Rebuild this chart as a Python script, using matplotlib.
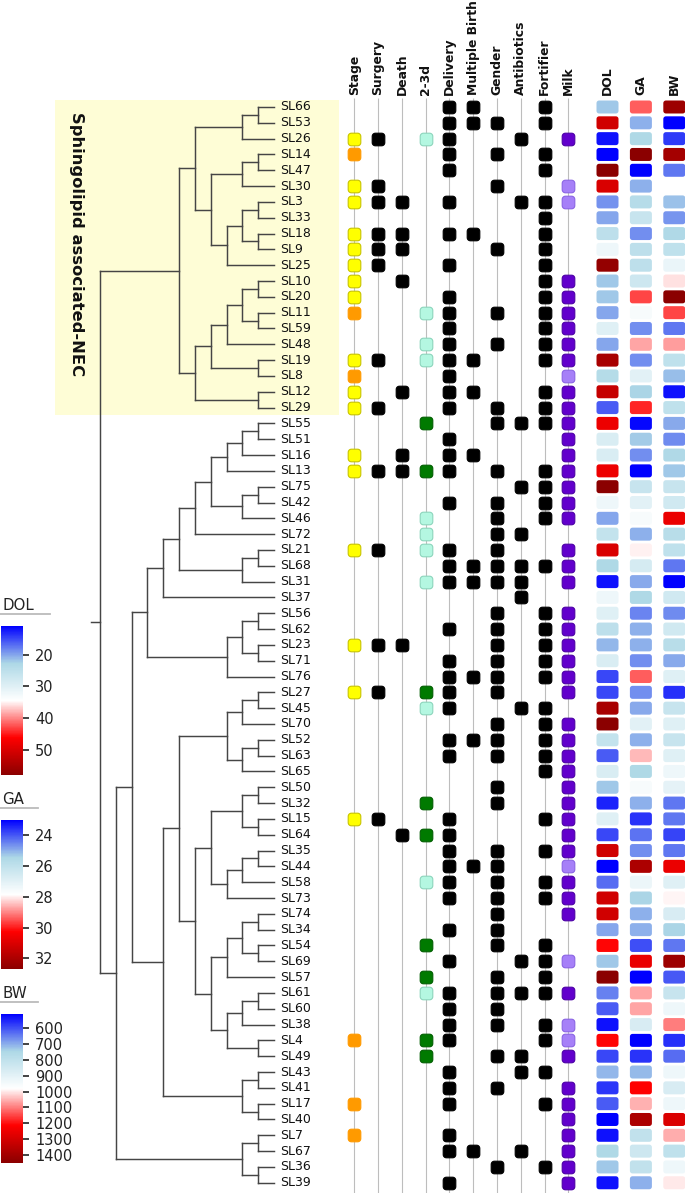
import numpy as np
import matplotlib
matplotlib.use("Agg")
import matplotlib.pyplot as plt
from matplotlib.path import Path
from matplotlib.colors import LinearSegmentedColormap, Normalize
from matplotlib.colorbar import ColorbarBase
from matplotlib.collections import LineCollection

# ---------------- data ----------------
samples = ['SL66', 'SL53', 'SL26', 'SL14', 'SL47', 'SL30', 'SL3', 'SL33', 'SL18', 'SL9',
           'SL25', 'SL10', 'SL20', 'SL11', 'SL59', 'SL48', 'SL19', 'SL8', 'SL12', 'SL29',
           'SL55', 'SL51', 'SL16', 'SL13', 'SL75', 'SL42', 'SL46', 'SL72', 'SL21', 'SL68',
           'SL31', 'SL37', 'SL56', 'SL62', 'SL23', 'SL71', 'SL76', 'SL27', 'SL45', 'SL70',
           'SL52', 'SL63', 'SL65', 'SL50', 'SL32', 'SL15', 'SL64', 'SL35', 'SL44', 'SL58',
           'SL73', 'SL74', 'SL34', 'SL54', 'SL69', 'SL57', 'SL61', 'SL60', 'SL38', 'SL4',
           'SL49', 'SL43', 'SL41', 'SL17', 'SL40', 'SL7', 'SL67', 'SL36', 'SL39']

dol = [22, 51, 12, 11, 58, 50, 19, 20, 25, 32,
       57, 22, 22, 20, 30, 20, 55, 24, 52, 16,
       48, 29, 29, 48, 58, 32, 20, 26, 50, 23,
       12, 32, 30, 25, 21, 29, 15, 15, 55, 58,
       26, 16, 29, 22, 13, 30, 15, 51, 11, 17,
       51, 51, 20, 46, 22, 58, 18, 16, 12, 46,
       15, 21, 14, 16, 11, 12, 23, 22, 12]

ga = [29.4, 25.0, 25.5, 32.7, 23.0, 25.0, 25.7, 26.2, 24.6, 25.9,
      25.9, 26.4, 29.6, 27.6, 24.6, 28.7, 24.6, 27.0, 25.4, 29.9,
      23.1, 25.3, 24.6, 23.0, 26.2, 27.0, 27.6, 25.0, 28.0, 26.6,
      24.9, 25.5, 24.5, 25.0, 25.0, 24.6, 29.4, 24.6, 24.9, 27.0,
      25.0, 28.5, 25.5, 27.6, 25.0, 23.6, 24.3, 24.6, 32.0, 27.3,
      25.4, 25.0, 25.0, 23.9, 30.7, 23.0, 28.7, 28.7, 26.7, 23.0,
      23.6, 25.1, 30.3, 28.6, 32.0, 26.0, 26.4, 26.0, 25.0]

bw = [1410, 510, 574, 1395, 640, np.nan, 720, 672, 753, 800,
      921, 1009, 1450, 1151, 640, 1069, 800, 717, 531, 800,
      695, 662, 753, 727, 822, 846, 1252, 777, 800, 640,
      510, 846, 662, 846, 777, 695, 891, 564, 822, 891,
      822, 891, 932, 904, 640, 640, 585, 640, 1252, 891,
      991, 869, 744, 640, 1410, 607, 822, 932, 1099, 564,
      629, 932, 869, 932, 1286, 1054, 800, 932, 999]

# hierarchical clustering: (merge height, left, right)
tree = (11,
        (6,
         (5,
          (2, (1, 'SL66', 'SL53'), 'SL26'),
          (4,
           (2, (1, 'SL14', 'SL47'), 'SL30'),
           (3, (2, (1, 'SL3', 'SL33'), (1, 'SL18', 'SL9')), 'SL25'))),
         (5,
          (4,
           (3, (2, (1, 'SL10', 'SL20'), (1, 'SL11', 'SL59')), 'SL48'),
           (1, 'SL19', 'SL8')),
          (1, 'SL12', 'SL29'))),
        (10,
         (9,
          (8,
           (7,
            (6,
             (5,
              (4,
               (3, (2, (1, 'SL55', 'SL51'), 'SL16'), 'SL13'),
               (2, (1, 'SL75', 'SL42'), 'SL46')),
              'SL72'),
             (2, (1, 'SL21', 'SL68'), 'SL31')),
            'SL37'),
           (3, (2, (1, 'SL56', 'SL62'), (1, 'SL23', 'SL71')), 'SL76')),
          (7,
           (6,
            (3, (2, (1, 'SL27', 'SL45'), 'SL70'), (2, (1, 'SL52', 'SL63'), 'SL65')),
            (5,
             (4,
              (2, (1, 'SL50', 'SL32'), (1, 'SL15', 'SL64')),
              (3, (2, (1, 'SL35', 'SL44'), 'SL58'), 'SL73')),
             (4,
              (3, (2, (1, 'SL74', 'SL34'), (1, 'SL54', 'SL69')), 'SL57'),
              (3, (2, (1, 'SL61', 'SL60'), 'SL38'), (1, 'SL4', 'SL49'))))),
           (2, (1, 'SL43', 'SL41'), (1, 'SL17', 'SL40')))),
         (2, (1, 'SL7', 'SL67'), (1, 'SL36', 'SL39'))))

cluster_name = 'Sphingolipid associated-NEC'
cluster_members = samples[:20]

annot_names = ['Stage', 'Surgery', 'Death', '2-3d', 'Delivery', 'Multiple Birth',
               'Gender', 'Antibiotics', 'Fortifier', 'Milk']
stage_a = ['SL26', 'SL30', 'SL3', 'SL18', 'SL9', 'SL25', 'SL10', 'SL20', 'SL19', 'SL12',
           'SL29', 'SL16', 'SL13', 'SL21', 'SL23', 'SL27', 'SL15']
stage_b = ['SL14', 'SL11', 'SL8', 'SL4', 'SL17', 'SL7']
surgery = ['SL26', 'SL30', 'SL3', 'SL18', 'SL9', 'SL25', 'SL19', 'SL29', 'SL13', 'SL21',
           'SL23', 'SL27', 'SL15']
death = ['SL3', 'SL18', 'SL9', 'SL10', 'SL12', 'SL16', 'SL13', 'SL23', 'SL64']
d23_a = ['SL26', 'SL11', 'SL48', 'SL19', 'SL46', 'SL72', 'SL21', 'SL31', 'SL45', 'SL58', 'SL61']
d23_b = ['SL55', 'SL13', 'SL27', 'SL32', 'SL64', 'SL54', 'SL57', 'SL4', 'SL49']
delivery = ['SL66', 'SL53', 'SL26', 'SL14', 'SL47', 'SL3', 'SL18', 'SL25', 'SL20', 'SL11',
            'SL59', 'SL48', 'SL19', 'SL8', 'SL12', 'SL29', 'SL51', 'SL16', 'SL13', 'SL42',
            'SL21', 'SL68', 'SL31', 'SL62', 'SL71', 'SL76', 'SL27', 'SL45', 'SL52', 'SL63',
            'SL15', 'SL64', 'SL35', 'SL44', 'SL58', 'SL73', 'SL34', 'SL69', 'SL61', 'SL60',
            'SL38', 'SL4', 'SL43', 'SL41', 'SL17', 'SL7', 'SL67', 'SL39']
multiple = ['SL66', 'SL53', 'SL18', 'SL19', 'SL12', 'SL16', 'SL68', 'SL31', 'SL76', 'SL52',
            'SL44', 'SL67']
gender = ['SL53', 'SL14', 'SL30', 'SL9', 'SL11', 'SL48', 'SL29', 'SL55', 'SL13', 'SL42',
          'SL46', 'SL72', 'SL21', 'SL68', 'SL31', 'SL56', 'SL62', 'SL23', 'SL71', 'SL76',
          'SL27', 'SL70', 'SL52', 'SL63', 'SL50', 'SL32', 'SL35', 'SL44', 'SL58', 'SL73',
          'SL74', 'SL34', 'SL54', 'SL57', 'SL61', 'SL60', 'SL38', 'SL49', 'SL41', 'SL36']
antibiotics = ['SL26', 'SL3', 'SL55', 'SL75', 'SL72', 'SL68', 'SL31', 'SL37', 'SL45', 'SL69',
               'SL61', 'SL49', 'SL43', 'SL67']
fortifier = ['SL66', 'SL53', 'SL14', 'SL47', 'SL3', 'SL33', 'SL18', 'SL9', 'SL25', 'SL10',
             'SL20', 'SL11', 'SL59', 'SL48', 'SL19', 'SL12', 'SL29', 'SL55', 'SL13', 'SL75',
             'SL42', 'SL46', 'SL68', 'SL56', 'SL62', 'SL23', 'SL71', 'SL76', 'SL45', 'SL70',
             'SL52', 'SL63', 'SL65', 'SL15', 'SL35', 'SL58', 'SL73', 'SL54', 'SL69', 'SL57',
             'SL61', 'SL38', 'SL4', 'SL43', 'SL17', 'SL36']
milk_a = ['SL26', 'SL10', 'SL20', 'SL11', 'SL59', 'SL48', 'SL19', 'SL12', 'SL29', 'SL55',
          'SL51', 'SL16', 'SL13', 'SL75', 'SL42', 'SL46', 'SL21', 'SL68', 'SL31', 'SL56',
          'SL62', 'SL23', 'SL71', 'SL76', 'SL27', 'SL70', 'SL52', 'SL63', 'SL65', 'SL50',
          'SL32', 'SL15', 'SL64', 'SL35', 'SL58', 'SL73', 'SL74', 'SL61', 'SL49', 'SL41',
          'SL17', 'SL40', 'SL7', 'SL67', 'SL36', 'SL39']
milk_b = ['SL30', 'SL3', 'SL8', 'SL44', 'SL69', 'SL38', 'SL4']

heat_names = ['DOL', 'GA', 'BW']
dol_ticks = [20, 30, 40, 50]
ga_ticks = [24, 26, 28, 30, 32]
bw_ticks = [600, 700, 800, 900, 1000, 1100, 1200, 1300, 1400]

# ---------------- styles ----------------
W, H, DPI = 685, 1193, 100
ROW0, STEP = 107.0, 15.82          # pixel of first row centre, row spacing
Y_TOP, Y_BOT = 98.0, 1193.0
ylim_rows = ((Y_BOT - ROW0) / STEP, (Y_TOP - ROW0) / STEP)

cmap = LinearSegmentedColormap.from_list(
    'bwr5', ['#0000FF', '#ADD8E6', '#FFFFFF', '#FF0000', '#8B0000'])

marker_styles = {
    'stage_a': ('#FFFF00', '#C8C400'),
    'stage_b': ('#FF9A00', '#FF9A00'),
    'black': ('#000000', '#000000'),
    'd23_a': ('#B4F7E1', '#8CD5BC'),
    'd23_b': ('#007A00', '#005E00'),
    'milk_a': ('#6200CC', '#4C00A6'),
    'milk_b': ('#A680F8', '#8A64E4'),
}
annot_groups = [
    [('stage_a', stage_a), ('stage_b', stage_b)],
    [('black', surgery)],
    [('black', death)],
    [('d23_a', d23_a), ('d23_b', d23_b)],
    [('black', delivery)],
    [('black', multiple)],
    [('black', gender)],
    [('black', antibiotics)],
    [('black', fortifier)],
    [('milk_a', milk_a), ('milk_b', milk_b)],
]

FONT = 'DejaVu Sans'
plt.rcParams['font.family'] = FONT
HEAD_FS = 8.9


def fig_rect(x0, x1, y0, y1):
    return [x0 / W, 1 - y1 / H, (x1 - x0) / W, (y1 - y0) / H]


def rounded_rect(w, h, r, n=7):
    verts = []
    for cx, cy, a0 in [(w / 2 - r, h / 2 - r, 0), (-w / 2 + r, h / 2 - r, 90),
                       (-w / 2 + r, -h / 2 + r, 180), (w / 2 - r, -h / 2 + r, 270)]:
        for t in np.linspace(a0, a0 + 90, n):
            verts.append((cx + r * np.cos(np.radians(t)), cy + r * np.sin(np.radians(t))))
    verts.append(verts[0])
    codes = [Path.MOVETO] + [Path.LINETO] * (len(verts) - 2) + [Path.CLOSEPOLY]
    return Path(verts, codes)


px2pt = 72.0 / DPI
fig = plt.figure(figsize=(W / DPI, H / DPI), dpi=DPI)

# background overlay (legend decorations)
ax_bg = fig.add_axes([0, 0, 1, 1])
ax_bg.set_xlim(0, W)
ax_bg.set_ylim(H, 0)
ax_bg.axis('off')

row_of = {s: i for i, s in enumerate(samples)}

# ---------------- dendrogram ----------------
LEAF_X, HSTEP = 274.0, 15.82
DX0, DX1 = 55.0, 339.0
ax_d = fig.add_axes(fig_rect(DX0, DX1, Y_TOP, Y_BOT))
ax_d.set_xlim((LEAF_X - DX0) / HSTEP, (LEAF_X - DX1) / HSTEP)
ax_d.set_ylim(*ylim_rows)
ax_d.axis('off')
ax_d.patch.set_alpha(0)

members_rows = [row_of[s] for s in cluster_members]
ax_d.add_patch(plt.Rectangle((ax_d.get_xlim()[1], min(members_rows) - 0.45),
                             ax_d.get_xlim()[0] - ax_d.get_xlim()[1],
                             max(members_rows) - min(members_rows) + 0.95,
                             facecolor='#FEFDD6', edgecolor='none', zorder=0))

segs = []


def layout(node):
    if isinstance(node, str):
        return 0.0, float(row_of[node])
    h, a, b = node
    ha, ya = layout(a)
    hb, yb = layout(b)
    segs.append([(h, ya), (h, yb)])
    segs.append([(ha, ya), (h, ya)])
    segs.append([(hb, yb), (h, yb)])
    return h, (ya + yb) / 2


root_h, root_y = layout(tree)
segs.append([(root_h, root_y), (root_h + 0.55, root_y)])
ax_d.add_collection(LineCollection(segs, colors='#454545', linewidths=1.05,
                                   capstyle='projecting', zorder=2))

for s in samples:
    ax_d.text(-0.38, row_of[s], s, ha='left', va='center', fontsize=9,
              color='#111111', zorder=3)

ax_d.text((LEAF_X - 76.5) / HSTEP, (244 - ROW0) / STEP, cluster_name, rotation=270,
          ha='center', va='center', fontsize=11.8, fontweight='bold', color='#111111')

# ---------------- annotation columns ----------------
AX0, ASTEP = 354.3, 23.79
ax_a = fig.add_axes(fig_rect(AX0 - ASTEP / 2, AX0 + ASTEP * 9.5, Y_TOP, Y_BOT))
ax_a.set_xlim(-0.5, 9.5)
ax_a.set_ylim(*ylim_rows)
ax_a.axis('off')
ax_a.patch.set_alpha(0)
ax_a.vlines(np.arange(len(annot_names)), ylim_rows[1], ylim_rows[0], color='#BDBDBD',
            linewidth=0.8, zorder=1)

sq = rounded_rect(1.0, 1.0, 0.25)
sq_size = (12.6 * px2pt) ** 2
for j, groups in enumerate(annot_groups):
    for key, members in groups:
        fc, ec = marker_styles[key]
        ys = [row_of[s] for s in members]
        ax_a.scatter([j] * len(ys), ys, marker=sq, s=sq_size, facecolor=fc,
                     edgecolor=ec, linewidths=0.8, zorder=3)
head_y = (95 - ROW0) / STEP
for j, name in enumerate(annot_names):
    ax_a.text(j, head_y, name, rotation=90, ha='center', va='bottom', fontsize=HEAD_FS,
              fontweight='bold', color='#111111', clip_on=False)

# ---------------- heatmap ----------------
HX0, HSTEP_X = 607.5, 33.4
ax_h = fig.add_axes(fig_rect(HX0 - HSTEP_X / 2, HX0 + HSTEP_X * 2.5, Y_TOP, Y_BOT))
ax_h.set_xlim(-0.5, 2.5)
ax_h.set_ylim(*ylim_rows)
ax_h.axis('off')
ax_h.patch.set_alpha(0)

cell = rounded_rect(22.0, 13.0, 2.6)
cell_size = (22.0 * px2pt) ** 2
norms = []
for j, vals in enumerate([dol, ga, bw]):
    v = np.asarray(vals, dtype=float)
    norm = Normalize(np.nanmin(v), np.nanmax(v))
    norms.append(norm)
    ok = ~np.isnan(v)
    rows = np.arange(len(v))[ok]
    ax_h.scatter(np.full(ok.sum(), j), rows, marker=cell, s=cell_size,
                 c=cmap(norm(v[ok])), edgecolor='none', zorder=3)
    ax_h.text(j, head_y, heat_names[j], rotation=90, ha='center', va='bottom',
              fontsize=HEAD_FS, fontweight='bold', color='#111111', clip_on=False)

# ---------------- legends ----------------
legend_specs = [
    ('DOL', dol_ticks, 626.0, 775.0, 50.0),
    ('GA', ga_ticks, 820.0, 969.0, 38.0),
    ('BW', bw_ticks, 1014.0, 1162.7, 38.0),
]
for (name, ticks, y0, y1, ul), norm in zip(legend_specs, norms):
    cax = fig.add_axes(fig_rect(0.5, 23.3, y0, y1))
    cb = ColorbarBase(cax, cmap=cmap, norm=norm, orientation='vertical', ticks=ticks)
    cb.outline.set_visible(False)
    cax.invert_yaxis()
    cax.tick_params(axis='y', length=4, width=1.2, color='#222222', labelsize=10.5,
                    labelcolor='#222222', pad=4.5)
    ax_bg.text(2, y0 - 15.5, name, ha='left', va='baseline', fontsize=10.8,
               color='#222222')
    ax_bg.plot([0, ul], [y0 - 12, y0 - 12], color='#BBBBBB', linewidth=1.3)

fig.savefig('out.png', dpi=DPI)
